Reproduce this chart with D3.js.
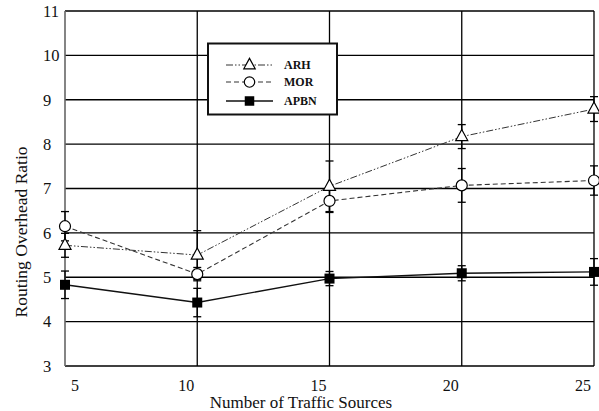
<!DOCTYPE html>
<html>
<head>
<meta charset="utf-8">
<script src="https://cdn.jsdelivr.net/npm/d3@7"></script>
<style>
  html, body { margin: 0; padding: 0; background: #fff; }
  svg { display: block; }
  svg text { font-family: "Liberation Serif", "Times New Roman", serif; }
</style>
</head>
<body>
<svg id="chart" width="599" height="411"></svg>
<script>
// Number of traffic sources on the x axis
const sources = [5, 10, 15, 20, 25];
const yTicks = [3, 4, 5, 6, 7, 8, 9, 10, 11];

// Routing overhead ratio per protocol, with error-bar half widths
const arh = [5.72, 5.5, 7.05, 8.17, 8.79];
const arhErr = [0.27, 0.55, 0.57, 0.27, 0.28];
const mor = [6.15, 5.07, 6.72, 7.07, 7.18];
const morErr = [0.33, 0.15, 0.26, 0.38, 0.33];
const apbn = [4.83, 4.43, 4.97, 5.09, 5.12];
const apbnErr = [0.31, 0.32, 0.16, 0.17, 0.3];

const seriesNames = ["ARH", "MOR", "APBN"];

const svg = d3.select("#chart");
const plotLeft = 65, plotRight = 594, plotTop = 11, plotBottom = 366;
const serif = "'Liberation Serif', 'Times New Roman', serif";

const x = d3.scaleLinear().domain([5, 25]).range([plotLeft, plotRight]);
const y = d3.scaleLinear().domain([3, 11]).range([plotBottom, plotTop]);

// horizontal grid
svg.append("g").selectAll("line").data(yTicks).join("line")
  .attr("x1", plotLeft).attr("x2", plotRight)
  .attr("y1", d => y(d)).attr("y2", d => y(d))
  .attr("stroke", "#000").attr("stroke-width", 1.3);

// vertical grid
svg.append("g").selectAll("line").data(sources.slice(1)).join("line")
  .attr("x1", d => x(d)).attr("x2", d => x(d))
  .attr("y1", plotTop).attr("y2", plotBottom)
  .attr("stroke", "#000").attr("stroke-width", 1.3);

// left axis line
svg.append("line").attr("x1", plotLeft).attr("x2", plotLeft).attr("y1", plotTop).attr("y2", plotBottom)
  .attr("stroke", "#666").attr("stroke-width", 1.6);

// y tick labels
svg.append("g").selectAll("text").data(yTicks).join("text")
  .attr("x", 43).attr("y", d => y(d)).attr("dy", "0.35em")
  .attr("font-family", serif).attr("font-size", 16.5).attr("fill", "#111")
  .text(d => d);

// x tick labels
svg.append("g").selectAll("text").data(sources).join("text")
  .attr("x", (d, i) => i === 0 ? x(d) + 10 : x(d) - 11)
  .attr("y", 391)
  .attr("text-anchor", "middle")
  .attr("font-family", serif).attr("font-size", 16).attr("fill", "#111")
  .text(d => d);

// axis titles
svg.append("text").attr("x", 301).attr("y", 407.5).attr("text-anchor", "middle")
  .attr("font-family", serif).attr("font-size", 17).attr("fill", "#111")
  .text("Number of Traffic Sources");
svg.append("text").attr("transform", "translate(27,232) rotate(-90)")
  .attr("text-anchor", "middle").attr("font-family", serif).attr("font-size", 17.5).attr("fill", "#111")
  .text("Routing Overhead Ratio");

const series = [
  { name: "ARH", values: arh, err: arhErr, dash: "7,2,1.5,2,1.5,2", width: 1, color: "#333", marker: "triangle" },
  { name: "MOR", values: mor, err: morErr, dash: "5,3", width: 1.1, color: "#333", marker: "circle" },
  { name: "APBN", values: apbn, err: apbnErr, dash: null, width: 1.4, color: "#111", marker: "square" }
];

const line = d3.line().x((d, i) => x(sources[i])).y(d => y(d));

// error bars
series.forEach(s => {
  const g = svg.append("g");
  s.values.forEach((v, i) => {
    const cx = x(sources[i]);
    g.append("line").attr("x1", cx).attr("x2", cx)
      .attr("y1", y(v + s.err[i])).attr("y2", y(v - s.err[i]))
      .attr("stroke", "#000").attr("stroke-width", 1.3);
    [v + s.err[i], v - s.err[i]].forEach(e => {
      g.append("line").attr("x1", cx - 4).attr("x2", cx + 4)
        .attr("y1", y(e)).attr("y2", y(e))
        .attr("stroke", "#000").attr("stroke-width", 1.3);
    });
  });
});

function drawMarker(g, type, cx, cy, scale) {
  const k = scale || 1;
  if (type === "triangle") {
    g.append("path")
      .attr("d", `M${cx},${cy - 7 * k}L${cx + 6 * k},${cy + 4 * k}L${cx - 6 * k},${cy + 4 * k}Z`)
      .attr("fill", "#fff").attr("stroke", "#000").attr("stroke-width", 1.2);
  } else if (type === "circle") {
    g.append("circle").attr("cx", cx).attr("cy", cy).attr("r", 5.5 * k)
      .attr("fill", "#fff").attr("stroke", "#000").attr("stroke-width", 1.2);
  } else {
    g.append("rect").attr("x", cx - 5 * k).attr("y", cy - 5 * k)
      .attr("width", 10 * k).attr("height", 10 * k).attr("fill", "#000");
  }
}

// series lines and markers
series.forEach(s => {
  svg.append("path").datum(s.values).attr("d", line)
    .attr("fill", "none").attr("stroke", s.color).attr("stroke-width", s.width)
    .attr("stroke-dasharray", s.dash);
  const g = svg.append("g");
  s.values.forEach((v, i) => drawMarker(g, s.marker, x(sources[i]), y(v)));
});

// legend
const lg = svg.append("g");
lg.append("rect").attr("x", 208).attr("y", 43.5).attr("width", 129).attr("height", 71)
  .attr("fill", "#fff").attr("stroke", "#111").attr("stroke-width", 2);
series.forEach((s, i) => {
  const ly = [65, 82, 101][i];
  lg.append("line").attr("x1", 226).attr("x2", 273).attr("y1", ly).attr("y2", ly)
    .attr("stroke", s.color).attr("stroke-width", s.width).attr("stroke-dasharray", s.dash);
  drawMarker(lg, s.marker, 249.5, ly, 0.95);
  lg.append("text").attr("x", 284).attr("y", ly).attr("dy", "0.35em")
    .attr("font-family", serif).attr("font-size", 12).attr("font-weight", "bold").attr("fill", "#111")
    .text(seriesNames[i]);
});
</script>
</body>
</html>
